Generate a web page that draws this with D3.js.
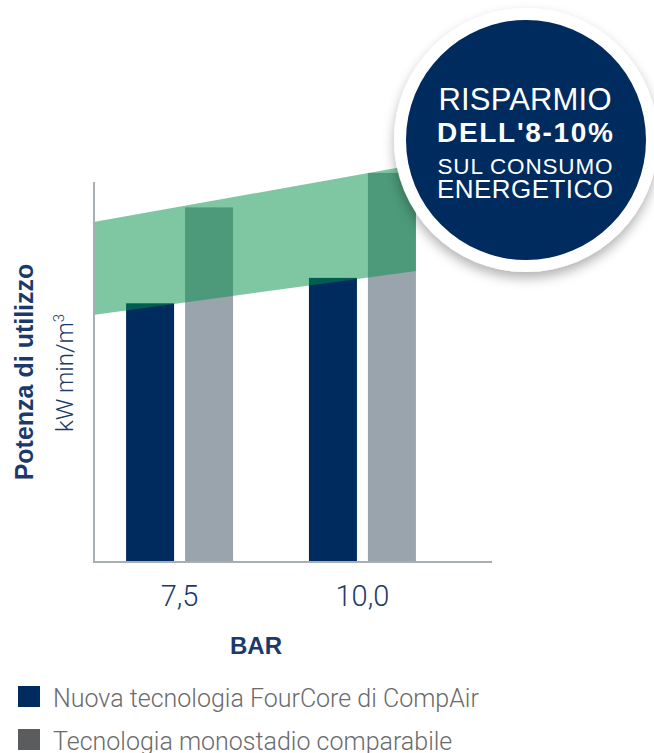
<!DOCTYPE html>
<html>
<head>
<meta charset="utf-8">
<script src="https://cdn.jsdelivr.net/npm/d3@7"></script>
<style>
  body { margin: 0; background: #fff; }
  svg { display: block; }
</style>
</head>
<body>
<svg id="chart" width="654" height="753"></svg>
<script>
// values (arbitrary units, 0-100 = axis height)
const categories = ["7,5", "10,0"];
const series = ["nuova", "comparabile"];
const nuova = [68, 74.7];
const comparabile = [93.3, 102.4];
// savings band, value at left end (axis) and right end (last bar)
const bandLow = [65, 76.5];
const bandHigh = [89.5, 104.6];

const legendLabels = ["Nuova tecnologia FourCore di CompAir", "Tecnologia monostadio comparabile"];
const circleLines = ["RISPARMIO", "DELL'8-10%", "SUL CONSUMO", "ENERGETICO"];

const navy = "#002b5e";
const grayBar = "#99a4ac";
const axisGray = "#a7afb5";
const textNavy = "#1b3a6b";

const svg = d3.select("#chart");

const x = d3.scaleBand().domain(categories).range([95, 447]).paddingInner(0.415).paddingOuter(0.17);
const xs = d3.scaleBand().domain(series).range([0, x.bandwidth()]).paddingInner(0.186);
const y = d3.scaleLinear().domain([0, 100]).range([561, 182]);

const data = categories.map((c, i) => ({ cat: c, values: [nuova[i], comparabile[i]] }));

// bars
const groups = svg.selectAll(".grp").data(data).enter().append("g")
  .attr("class", "grp")
  .attr("transform", (d) => `translate(${x(d.cat)},0)`);

groups.selectAll("rect").data((d) => d.values.map((v, j) => ({ key: series[j], v })))
  .enter().append("rect")
  .attr("x", (d) => xs(d.key))
  .attr("width", xs.bandwidth())
  .attr("y", (d) => y(d.v))
  .attr("height", (d) => y(0) - y(d.v))
  .attr("fill", (d) => (d.key === "nuova" ? navy : grayBar));

// green band
const bx0 = x.range()[0];
const bx1 = x(categories[1]) + x.bandwidth();
svg.append("path")
  .attr("d", d3.line()([
    [bx0, y(bandHigh[0])], [bx1, y(bandHigh[1])],
    [bx1, y(bandLow[1])], [bx0, y(bandLow[0])]
  ]) + "Z")
  .attr("fill", "#008f46")
  .attr("fill-opacity", 0.5);

// axes lines
svg.append("line")
  .attr("x1", bx0 - 1).attr("x2", bx0 - 1)
  .attr("y1", y(100)).attr("y2", y(0) + 1)
  .attr("stroke", axisGray).attr("stroke-width", 2);
svg.append("line")
  .attr("x1", bx0 - 2).attr("x2", x.range()[1] + 45)
  .attr("y1", y(0) + 1).attr("y2", y(0) + 1)
  .attr("stroke", axisGray).attr("stroke-width", 2);

const xAxisG = svg.append("g")
  .attr("transform", `translate(0,${y(0)})`)
  .call(d3.axisBottom(x).tickSize(0));
xAxisG.select(".domain").remove();
xAxisG.selectAll("text")
  .attr("y", 45).attr("dy", 0)
  .attr("font-family", "Roboto, 'Liberation Sans', sans-serif")
  .attr("font-weight", 300)
  .attr("font-size", 29)
  .attr("fill", textNavy);

svg.append("text")
  .attr("x", 256).attr("y", 654)
  .attr("text-anchor", "middle")
  .attr("font-family", "'Liberation Sans', Arial, sans-serif")
  .attr("font-weight", "bold")
  .attr("font-size", 24)
  .attr("fill", textNavy)
  .text("BAR");

// y title
svg.append("text")
  .attr("transform", "translate(33,372) rotate(-90)")
  .attr("text-anchor", "middle")
  .attr("font-family", "'Liberation Sans', Arial, sans-serif")
  .attr("font-weight", "bold")
  .attr("font-size", 25)
  .attr("fill", textNavy)
  .text("Potenza di utilizzo");

const unit = svg.append("text")
  .attr("transform", "translate(73,373) rotate(-90)")
  .attr("text-anchor", "middle")
  .attr("font-family", "Roboto, 'Liberation Sans', sans-serif")
  .attr("font-weight", 300)
  .attr("font-size", 24)
  .attr("fill", textNavy);
unit.append("tspan").text("kW min/m");
unit.append("tspan").attr("font-size", 15).attr("dy", -9).text("3");

// legend
const legend = svg.selectAll(".leg").data(legendLabels).enter().append("g")
  .attr("class", "leg")
  .attr("transform", (d, i) => `translate(18,${686 + i * 43})`);
legend.append("rect")
  .attr("width", 22).attr("height", 21)
  .attr("fill", (d, i) => (i === 0 ? navy : "#5b5c5e"));
legend.append("text")
  .attr("x", 35).attr("y", 21)
  .attr("font-family", "Roboto, 'Liberation Sans', sans-serif")
  .attr("font-weight", 300)
  .attr("font-size", 25)
  .attr("fill", "#6a6b6d")
  .text((d) => d);

// badge
const defs = svg.append("defs");
const f = defs.append("filter").attr("id", "shadow")
  .attr("x", "-30%").attr("y", "-30%").attr("width", "160%").attr("height", "160%");
f.append("feDropShadow")
  .attr("dx", 0).attr("dy", 6).attr("stdDeviation", 6)
  .attr("flood-color", "#000").attr("flood-opacity", 0.3);

const cx = 526, cy = 140;
svg.append("circle").attr("cx", cx).attr("cy", cy).attr("r", 132)
  .attr("fill", "#fff").attr("filter", "url(#shadow)");
svg.append("circle").attr("cx", cx).attr("cy", cy).attr("r", 120)
  .attr("fill", navy);

const lineStyle = [
  { y: 110, size: 31, weight: "normal", len: 173 },
  { y: 142, size: 28, weight: "bold", len: 176 },
  { y: 174, size: 22.5, weight: "normal", len: 175 },
  { y: 198, size: 26, weight: "normal", len: 176 }
];
// one text block, one tspan per line
svg.append("text")
  .attr("class", "badge")
  .attr("text-anchor", "middle")
  .attr("font-family", "'Liberation Sans', Arial, sans-serif")
  .attr("fill", "#fff")
  .selectAll("tspan").data(circleLines).enter().append("tspan")
  .attr("x", cx - 1)
  .attr("y", (d, i) => lineStyle[i].y)
  .attr("font-size", (d, i) => lineStyle[i].size)
  .attr("font-weight", (d, i) => lineStyle[i].weight)
  .attr("textLength", (d, i) => lineStyle[i].len)
  .text((d) => d);
</script>
</body>
</html>
